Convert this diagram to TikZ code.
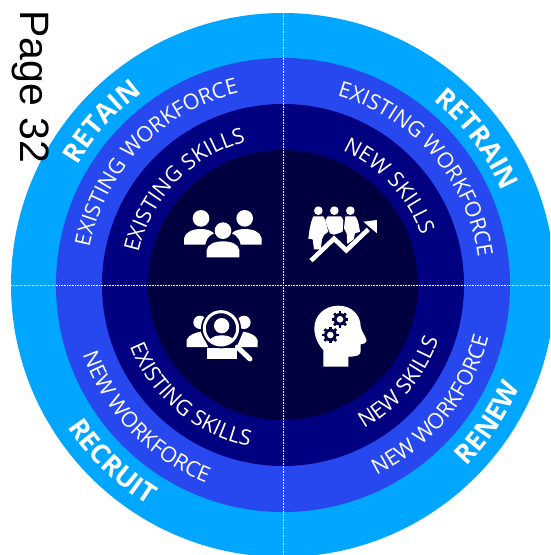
\documentclass[tikz,border=0pt]{standalone}
\usepackage{fontspec}
\setmainfont{Open Sans}
\usetikzlibrary{decorations.text}
\definecolor{ringA}{HTML}{00A6FF}
\definecolor{ringB}{HTML}{2748EE}
\definecolor{ringC}{HTML}{000080}
\definecolor{ringD}{HTML}{000040}
\newcommand\bigfont{\fontsize{27}{27}\bfseries\selectfont}
\newcommand\midfont{\fontsize{21.5}{21.5}\selectfont}
\newcommand\arctext[5]{% radius, start, end, font, text
  \begingroup
  #4%
  \path[decorate,decoration={text effects along path,text align=center,text={#5},
    text effects/.cd,text along path,characters={text=white,font=#4}}]
    (283,-285) ++(#2:#1) arc[start angle=#2,end angle=#3,radius=#1];
  \endgroup}
\tikzset{
  zoomA/.style={shift={(150,-170)},xscale=1/3,yscale=-1/3},
  zoomB/.style={shift={(150,-285)},xscale=1/3,yscale=-1/3},
  icon/.style={fill=white,draw=none},
  axis/.style={white,line width=.5pt,dash pattern=on .9pt off .7pt}
}
\begin{document}
\begin{tikzpicture}[x=1pt,y=1pt]
\useasboundingbox (0,0) rectangle (550,-555);
\clip (0,0) rectangle (550,-555);
\fill[white] (0,0) rectangle (550,-555);
\fill[ringA] (283,-285) circle[radius=272];
\fill[ringB] (283,-285) circle[radius=227];
\fill[ringC] (283,-285) circle[radius=181];
\fill[ringD] (283,-285) circle[radius=135];
\draw[axis] (283,-13) -- (283,-555);
\draw[axis] (11,-285) -- (550,-285);
% outer band
\arctext{238}{198}{78}{\bigfont}{RETAIN}
\arctext{238}{97}{-23}{\bigfont}{RETRAIN}
\arctext{258}{166}{286}{\bigfont}{RECRUIT}
\arctext{258}{-94}{26}{\bigfont}{RENEW}
% middle band
\arctext{197}{210}{62}{\midfont}{EXISTING WORKFORCE}
\arctext{197}{115}{-33}{\midfont}{EXISTING WORKFORCE}
\arctext{212}{154}{294}{\midfont}{NEW WORKFORCE}
\arctext{212}{-109}{31}{\midfont}{NEW WORKFORCE}
% inner band
\arctext{148}{210}{62}{\midfont}{EXISTING SKILLS}
\arctext{147}{103}{-17}{\midfont}{NEW SKILLS}
\arctext{165}{160}{300}{\midfont}{EXISTING SKILLS}
\arctext{165}{-100}{20}{\midfont}{NEW SKILLS}
% team icon
\begin{scope}[zoomA]
\fill[icon] (153,145) circle[radius=25] (284,145) circle[radius=25];
\fill[icon] (102,224) -- (102,205) .. controls (105,185) and (130,177) .. (153,177) .. controls (170,177) and (185,182) .. (192,190) .. controls (175,197) and (168,210) .. (166,224) -- cycle;
\fill[icon] (335,224) -- (335,205) .. controls (332,185) and (307,177) .. (284,177) .. controls (267,177) and (252,182) .. (246,190) .. controls (262,197) and (270,210) .. (272,224) -- cycle;
\fill[icon] (219,182) circle[radius=25];
\fill[icon] (170,262) -- (170,240) .. controls (173,222) and (195,214) .. (219,214) .. controls (243,214) and (265,222) .. (268,240) -- (268,262) -- cycle;
% growth icon
\fill[icon] (505,122) circle[radius=13] (553,122) circle[radius=13] (601,122) circle[radius=13];
\fill[icon] (490,139) -- (520,139) .. controls (528,150) and (530,170) .. (535,185) -- (522,195) -- (516,208) -- (512,238) -- (492,238) -- (488,208) -- (475,206) .. controls (478,180) and (482,155) .. (490,139) -- cycle;
\fill[icon] (533,139) -- (573,139) -- (580,150) -- (578,185) -- (565,190) -- (552,194) -- (540,190) -- (532,170) -- (526,150) -- cycle;
\fill[icon] (586,139) -- (616,139) .. controls (626,150) and (628,175) .. (630,185) -- (615,190) -- (611,208) -- (592,222) -- (590,190) -- (582,175) -- cycle;
\draw[white,line width=4.6pt,line join=miter] (483,272) -- (552,206) -- (589,241) -- (655,178);
\fill[icon] (681,150) -- (681,190) -- (640,155) -- cycle;
\end{scope}
% search icon
\begin{scope}[zoomB]
\fill[icon] (150,112) circle[radius=20] (282,112) circle[radius=20];
\fill[icon] (110,186) -- (110,165) .. controls (115,150) and (135,143) .. (152,140) -- (175,186) -- cycle;
\fill[icon] (323,186) -- (323,165) .. controls (318,150) and (298,143) .. (280,140) -- (260,186) -- cycle;
\fill[icon] (171,222) -- (171,190) -- (262,190) -- (262,222) -- cycle;
\fill[ringD] (213,130) circle[radius=60];
\draw[white,line width=3pt] (213,130) circle[radius=50];
\fill[icon] (215,122) circle[radius=23];
\fill[icon] (177,168) .. controls (185,155) and (198,151) .. (215,151) .. controls (232,151) and (245,155) .. (252,165) .. controls (243,176) and (228,180) .. (213,180) .. controls (198,180) and (185,176) .. (177,168) -- cycle;
\draw[white,line width=5pt,line cap=round] (262,186) -- (300,222);
% head icon
\fill[icon] (520,245) -- (520,195) .. controls (505,180) and (493,155) .. (493,130) .. controls (493,90) and (525,62) .. (565,62) .. controls (605,62) and (632,90) .. (632,125) .. controls (635,140) and (648,155) .. (650,168) .. controls (648,175) and (640,177) .. (632,178) -- (632,198) .. controls (632,210) and (622,215) .. (595,215) -- (595,245) -- cycle;
\foreach \gx/\gy in {570/103,541/150}{
  \fill[ringD] (\gx,\gy) circle[radius=19];
  \foreach \a in {0,45,...,315}{\fill[ringD,rotate around={\a:(\gx,\gy)}] (\gx-4,\gy-25) rectangle (\gx+4,\gy-15);}
  \fill[icon] (\gx,\gy) circle[radius=10];
}
\end{scope}
\node[rotate=-90,anchor=base west,inner sep=0pt,font=\fontspec{Liberation Sans}\fontsize{41}{41}\selectfont,text=black] (page) at (20,-10) {Page 32};
\end{tikzpicture}
\end{document}
